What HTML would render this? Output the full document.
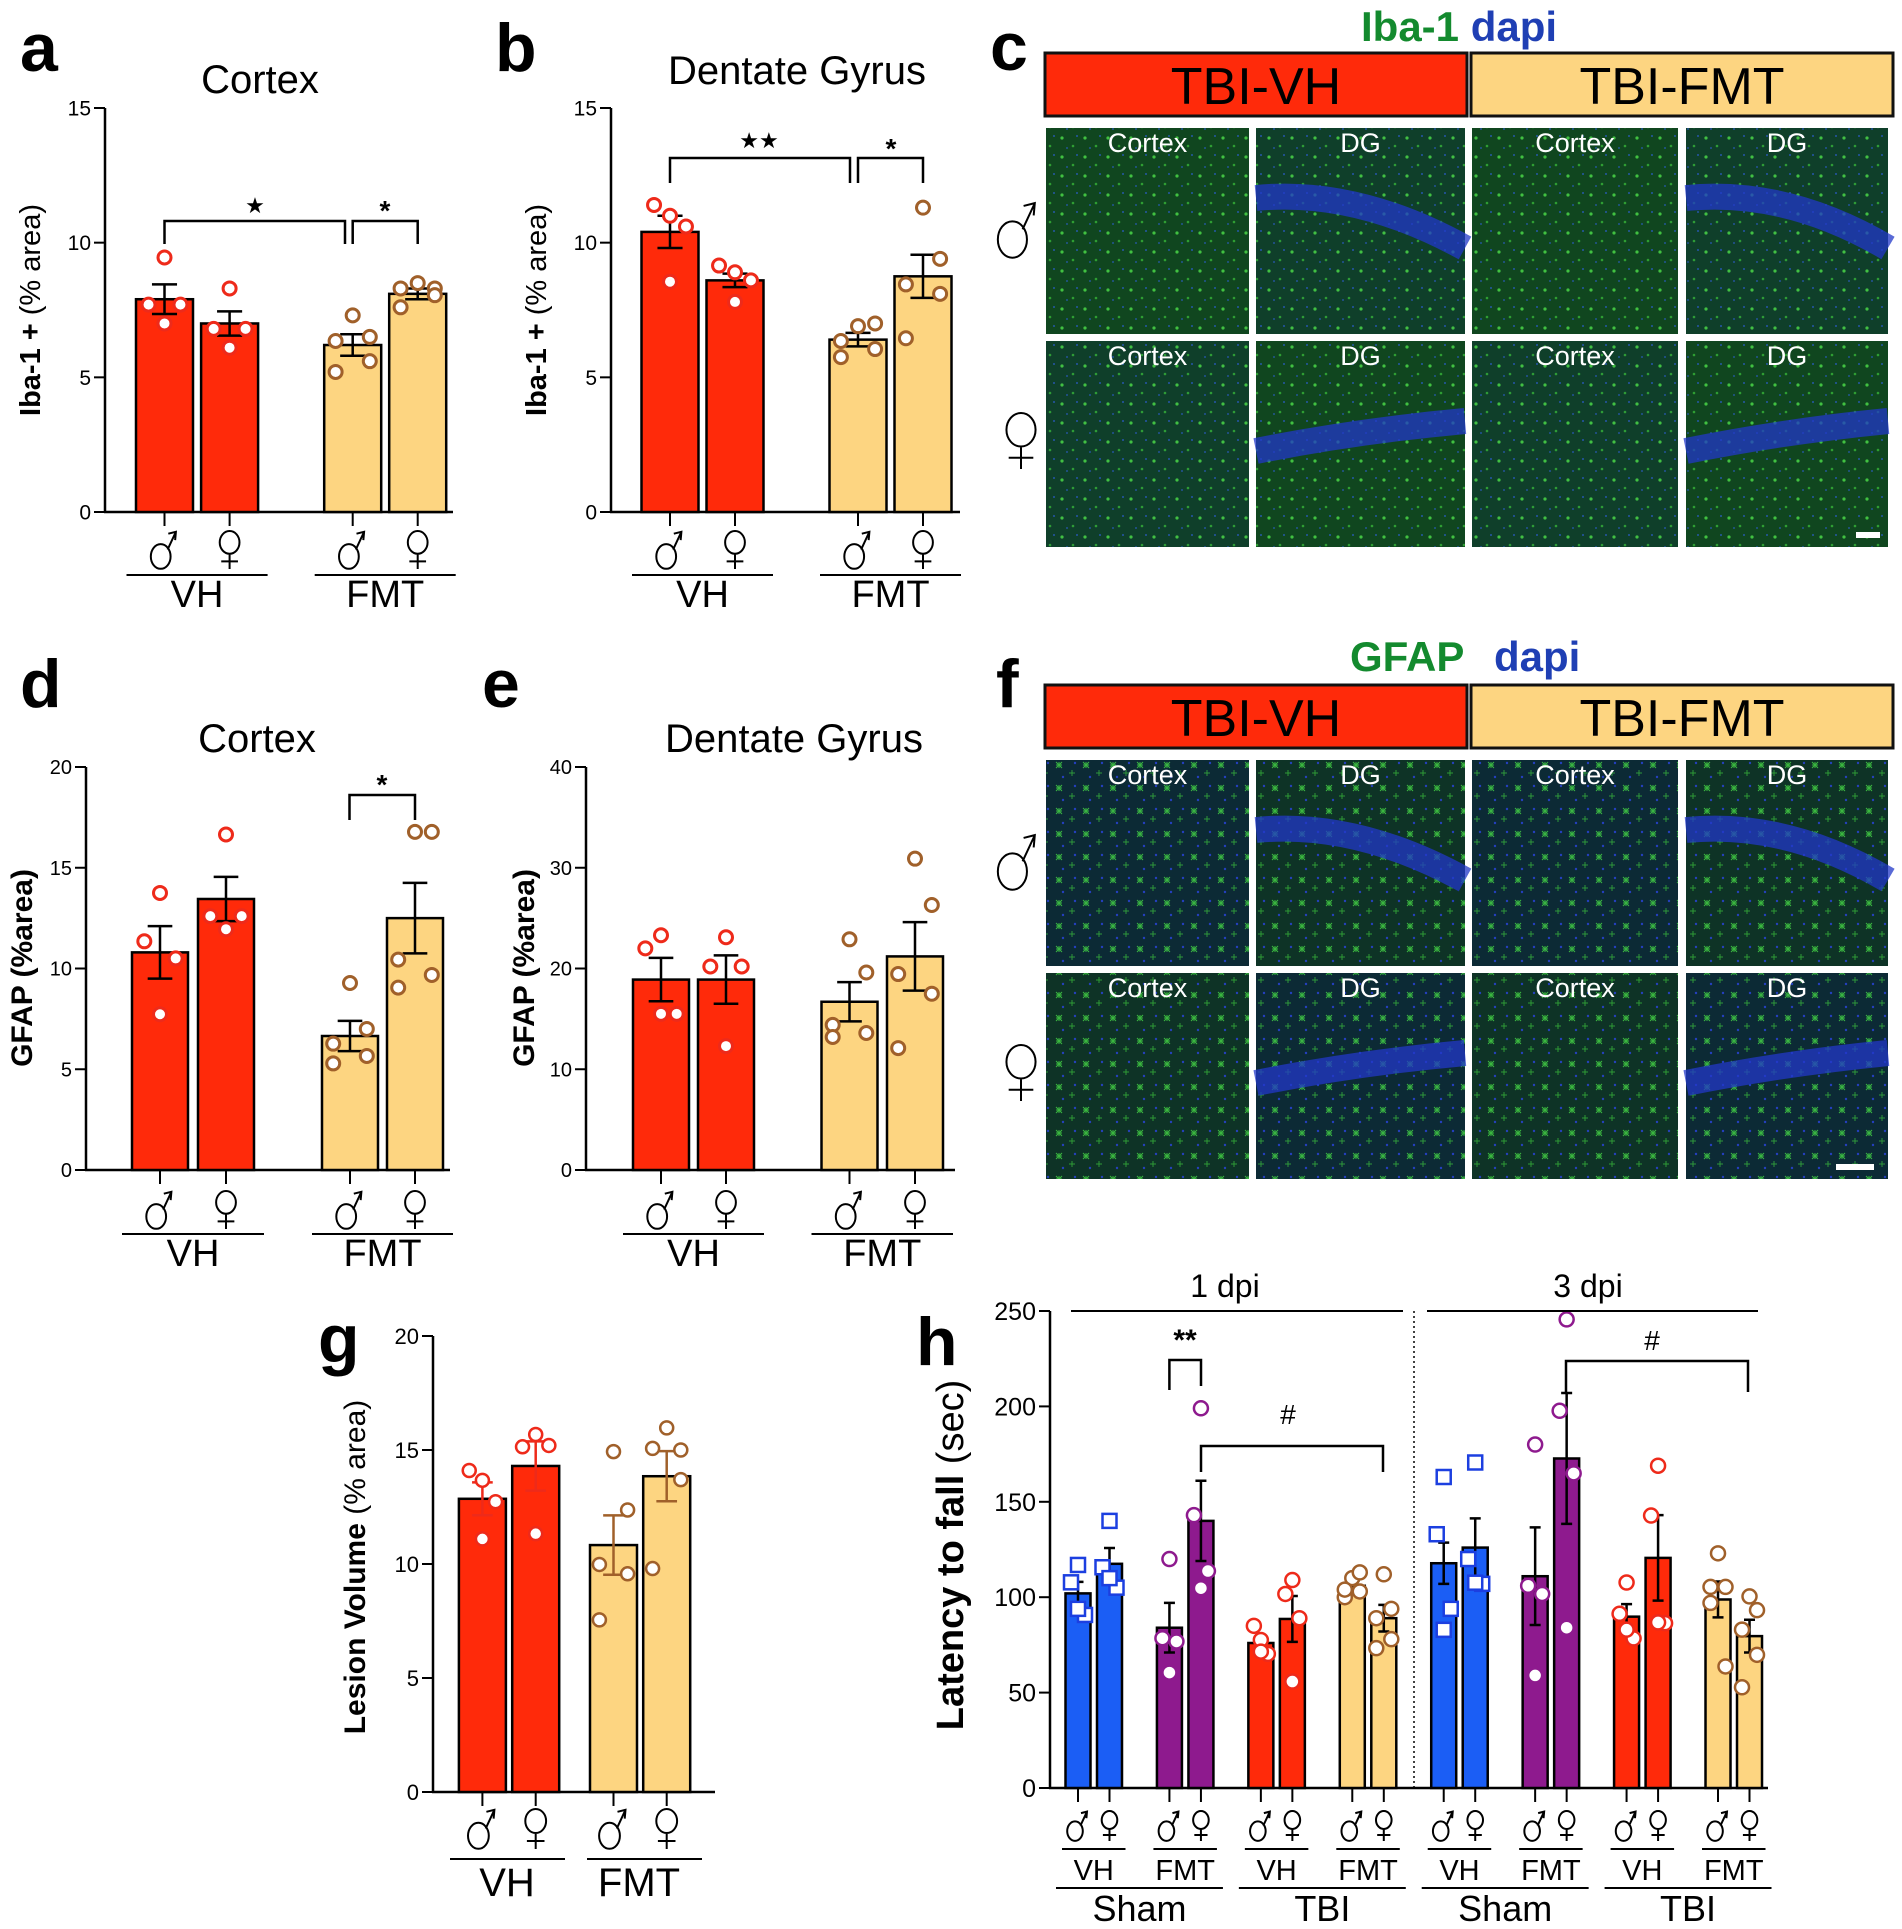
<!DOCTYPE html>
<html><head><meta charset="utf-8"><style>
html,body{margin:0;padding:0;background:#fff;}
svg{display:block;}
text{font-family:"Liberation Sans",sans-serif;}
.n{font-family:"Liberation Sans Narrow","Liberation Sans",sans-serif;}
</style></head><body>
<svg id="fig" xmlns="http://www.w3.org/2000/svg" width="1902" height="1929" viewBox="0 0 1902 1929">
<defs>
<pattern id="ibaDots" width="23" height="19" patternUnits="userSpaceOnUse">
<circle cx="4" cy="5" r="1.6" fill="#4de04a" opacity="0.8"/><circle cx="15" cy="13" r="1.3" fill="#3cc43c" opacity="0.7"/><circle cx="19" cy="3" r="1" fill="#2f5fe0" opacity="0.7"/><circle cx="9" cy="15" r="1" fill="#2f5fe0" opacity="0.6"/>
</pattern>
<pattern id="gfapDots" width="27" height="23" patternUnits="userSpaceOnUse">
<path d="M3 6h6M6 3v6M3 3l6 6M9 3l-6 6" stroke="#45d845" stroke-width="1" opacity="0.8"/><path d="M16 14h6M19 11v6" stroke="#3bc53b" stroke-width="1" opacity="0.7"/><circle cx="22" cy="4" r="1.2" fill="#2a45e0" opacity="0.8"/><circle cx="10" cy="18" r="1.2" fill="#2a45e0" opacity="0.8"/>
</pattern>
</defs>
<text x="20" y="71" font-size="68" font-weight="bold">a</text>
<text x="495" y="71" font-size="68" font-weight="bold">b</text>
<text x="990" y="70" font-size="68" font-weight="bold">c</text>
<text x="20" y="707" font-size="68" font-weight="bold">d</text>
<text x="482" y="707" font-size="68" font-weight="bold">e</text>
<text x="996" y="707" font-size="68" font-weight="bold">f</text>
<text x="318" y="1362" font-size="68" font-weight="bold">g</text>
<text x="916" y="1365" font-size="68" font-weight="bold">h</text>
<text class="n" x="260" y="93" font-size="40" text-anchor="middle">Cortex</text>
<text class="n" x="797" y="84" font-size="40" text-anchor="middle">Dentate Gyrus</text>
<text class="n" x="257" y="752" font-size="40" text-anchor="middle">Cortex</text>
<text class="n" x="794" y="752" font-size="40" text-anchor="middle">Dentate Gyrus</text>
<text x="1361" y="41" font-size="42" font-weight="bold"><tspan fill="#138a2e">Iba-1</tspan> <tspan fill="#1f3fb4">dapi</tspan></text>
<text x="1350" y="671" font-size="42" font-weight="bold"><tspan fill="#138a2e">GFAP</tspan> <tspan fill="#1f3fb4" x="1494">dapi</tspan></text>
<g id="micro"></g>
<g id="charts"></g>
</svg>
<script>
// ---------------- data ----------------
const sexCats = ['male', 'female', 'male', 'female'];
const aMeans = [7.9, 7.0, 6.2, 8.1];
const aSems = [0.55, 0.45, 0.4, 0.2];
const aPoints = [[9.45, 7.7, 7.7, 7.0], [8.3, 6.8, 6.8, 6.1], [7.3, 6.5, 6.35, 5.6, 5.2], [8.5, 8.3, 8.3, 8.05, 7.6]];
const aTicks = [0, 5, 10, 15];

const bMeans = [10.4, 8.6, 6.4, 8.75];
const bSems = [0.6, 0.25, 0.25, 0.8];
const bPoints = [[11.0, 11.4, 10.6, 8.55], [8.9, 9.15, 8.6, 7.8], [6.9, 7.0, 6.35, 6.05, 5.75], [11.3, 9.4, 8.45, 8.1, 6.45]];
const bTicks = [0, 5, 10, 15];

const dMeans = [10.8, 13.45, 6.65, 12.5];
const dSems = [1.3, 1.1, 0.75, 1.75];
const dPoints = [[13.75, 11.35, 10.5, 7.73], [16.65, 12.6, 12.6, 11.95], [9.28, 7.0, 6.27, 5.66, 5.29], [16.78, 16.78, 10.44, 9.68, 9.05]];
const dTicks = [0, 5, 10, 15, 20];

const eMeans = [18.9, 18.9, 16.7, 21.2];
const eSems = [2.15, 2.4, 1.95, 3.4];
const ePoints = [[23.3, 22.0, 15.5, 15.5], [23.1, 20.2, 20.2, 12.3], [22.9, 19.6, 14.4, 13.6, 13.2], [30.9, 26.3, 19.45, 17.5, 12.1]];
const eTicks = [0, 10, 20, 30, 40];

const gMeans = [12.86, 14.3, 10.83, 13.85];
const gSems = [0.72, 1.08, 1.3, 1.1];
const gPoints = [[13.67, 14.1, 12.73, 11.1], [15.68, 15.14, 15.2, 11.33], [14.93, 12.37, 9.98, 9.57, 7.55], [15.97, 15.0, 15.07, 13.7, 9.8]];
const gTicks = [0, 5, 10, 15, 20];

const hGroups = ['Sham-VH', 'Sham-VH', 'Sham-FMT', 'Sham-FMT', 'TBI-VH', 'TBI-VH', 'TBI-FMT', 'TBI-FMT', 'Sham-VH', 'Sham-VH', 'Sham-FMT', 'Sham-FMT', 'TBI-VH', 'TBI-VH', 'TBI-FMT', 'TBI-FMT'];
const hMeans = [102, 117.5, 84, 140, 76, 88.6, 106, 89, 117.8, 126, 111, 172.7, 89.8, 120.6, 98.8, 79.6];
const hSems = [6, 8.3, 13, 21, 3.5, 12, 3, 7, 10.8, 15.3, 25.6, 34.3, 6.6, 22.4, 9.4, 8.6];
const hPoints = [[116.9, 107.8, 90.7, 93.9], [140, 115.7, 105, 110], [120, 78.5, 76.8, 60.5], [199, 143, 113.7, 104.7],
  [77.6, 85, 70.3, 71.5], [109, 101.7, 89, 55.8], [110, 113, 100, 103, 104], [112, 93.9, 89, 78, 73.3],
  [163, 133, 93.9, 82.9], [170.6, 120, 107, 107.6], [180, 106, 101.7, 59], [245.6, 197.7, 164.9, 84],
  [107.7, 91.3, 78.4, 83], [168.9, 142.8, 86.4, 86.8], [123, 105.4, 105.4, 63.7, 97], [100.4, 93.2, 83, 69.8, 52.8]];
const hTicks = [0, 50, 100, 150, 200, 250];

// ---------------- helpers ----------------
const NS = 'http://www.w3.org/2000/svg';
const chartRoot = document.getElementById('charts');
function mk(tag, attrs, parent) {
  const e = document.createElementNS(NS, tag);
  for (const k in attrs) e.setAttribute(k, attrs[k]);
  (parent || chartRoot).appendChild(e);
  return e;
}
function sexSymbol(cx, cy, s, male, parent, sw) {
  let d;
  if (male) {
    const ccx = cx - s * 0.1, ccy = cy + s * 0.17, r = s * 0.26;
    const ex = ccx + r * 0.7, ey = ccy - r * 0.7, tx = cx + s * 0.3, ty = cy - s * 0.48;
    d = `M${ccx - r} ${ccy}a${r} ${r * 1.25} 0 1 0 ${2 * r} 0a${r} ${r * 1.25} 0 1 0 ${-2 * r} 0M${ex} ${ey}L${tx} ${ty}M${tx - s * 0.2} ${ty + s * 0.05}L${tx} ${ty}L${tx - s * 0.02} ${ty + s * 0.22}`;
  } else {
    const ccy = cy - s * 0.2, r = s * 0.26;
    d = `M${cx - r} ${ccy}a${r} ${r * 1.15} 0 1 0 ${2 * r} 0a${r} ${r * 1.15} 0 1 0 ${-2 * r} 0M${cx} ${ccy + r * 1.15}V${cy + s * 0.5}M${cx - s * 0.22} ${cy + s * 0.3}H${cx + s * 0.22}`;
  }
  const p = mk('path', {d, fill: 'none', stroke: '#000', 'stroke-width': sw || 2}, parent);
  
  
  return p;
}
const COL = {
  'VH': ['#ff2a0a', '#ee2a1a'], 'FMT': ['#fdd581', '#a0602a'],
  'Sham-VH': ['#1b5ef5', '#1c3fe0'], 'Sham-FMT': ['#8e1a8e', '#8e1a8e'],
  'TBI-VH': ['#ff2a0a', '#ee2a1a'], 'TBI-FMT': ['#fdd581', '#a0602a']
};
const JIT = [[0], [-0.25, 0.25], [0, -0.28, 0.28], [0, -0.28, 0.28, 0], [0, 0.3, -0.3, 0.3, -0.3]];

function drawChart(cfg, groups, means, sems, points, ticks) {
  const g = mk('g', {});
  
  
  const yS = v => cfg.y0 - (v / cfg.max) * (cfg.y0 - cfg.yTop);
  const ya = mk('line', {x1: cfg.ax, y1: yS(cfg.max), x2: cfg.ax, y2: cfg.y0, stroke: '#000', 'stroke-width': 2.5}, g);
  
  
  const xa = mk('line', {x1: cfg.ax - 1, y1: cfg.y0, x2: cfg.xEnd, y2: cfg.y0, stroke: '#000', 'stroke-width': 2.5}, g);
  
  
  ticks.forEach(t => {
    const tl = mk('line', {x1: cfg.ax - 11, y1: yS(t), x2: cfg.ax, y2: yS(t), stroke: '#000', 'stroke-width': 2}, g);
    
    
    const tx = mk('text', {x: cfg.ax - 14, y: yS(t) + cfg.tickFs * 0.36, 'font-size': cfg.tickFs, 'text-anchor': 'end', class: cfg.tickClass || 'n'}, g);
    
    
    tx.textContent = String(t);
  });
  means.forEach((m, i) => {
    const c = cfg.centers[i], w = cfg.barW, col = COL[groups[i]];
    const r = mk('rect', {x: c - w / 2, y: yS(m), width: w, height: cfg.y0 - yS(m), fill: col[0], stroke: '#000', 'stroke-width': 2.5}, g);
    
    
    const tk = mk('line', {x1: c, y1: cfg.y0, x2: c, y2: cfg.y0 + 14, stroke: '#000', 'stroke-width': 2}, g);
    
    
    const s = sems[i], cw = w * 0.22;
    const eb = mk('path', {d: `M${c} ${yS(m + s)}V${yS(m - s)}M${c - cw} ${yS(m + s)}H${c + cw}M${c - cw} ${yS(m - s)}H${c + cw}`, stroke: cfg.errCol ? cfg.errCol(i) : '#000', 'stroke-width': 2.5, fill: 'none'}, g);
    
    
    const pts = points[i], jit = JIT[Math.min(pts.length, 5) - 1];
    pts.forEach((v, j) => {
      const px = c + jit[j % jit.length] * w;
      let p;
      if (groups[i] === 'Sham-VH') {
        p = mk('rect', {x: px - cfg.r, y: yS(v) - cfg.r, width: cfg.r * 2, height: cfg.r * 2, fill: '#fff', stroke: col[1], 'stroke-width': 2.5}, g);
      } else {
        p = mk('circle', {cx: px, cy: yS(v), r: cfg.r, fill: '#fff', stroke: col[1], 'stroke-width': cfg.pw || 3}, g);
      }
      
      
    });
    sexSymbol(c, cfg.sexY, cfg.sexS, i % 2 === 0, g, 2);
  });
  const yt = mk('text', {transform: `translate(${cfg.ytX},${cfg.ytY}) rotate(-90)`, 'text-anchor': 'middle', 'font-size': cfg.ytFs}, g);
  
  
  const ta = mk('tspan', {'font-weight': 'bold'}, yt);
  ta.textContent = cfg.ytBold;
  if (cfg.ytNorm) {
    const tb = mk('tspan', {}, yt);
    tb.textContent = ' ' + cfg.ytNorm;
  }
  return yS;
}
function hline(x1, x2, y, name, w) {
  const l = mk('line', {x1, y1: y, x2, y2: y, stroke: '#000', 'stroke-width': w || 2});
  
  
}
function addLabel(x, y, txt, fs, name, cls, extra) {
  const t = mk('text', Object.assign({x, y, 'font-size': fs, 'text-anchor': 'middle'}, cls ? {class: cls} : {}, extra || {}));
  
  
  t.textContent = txt;
}
function bracket(x1, x2, yTop, yL, yR, name) {
  const p = mk('path', {d: `M${x1} ${yL}V${yTop}H${x2}V${yR}`, stroke: '#000', 'stroke-width': 2.5, fill: 'none'});
  
  
}
function groupLabels(c, lineY, textY, fs, cls) {
  hline(c[0] - 38, c[1] + 38, lineY, 'group-line-vh');
  hline(c[2] - 38, c[3] + 38, lineY, 'group-line-fmt');
  addLabel((c[0] + c[1]) / 2, textY, 'VH', fs, 'group-label-vh', cls);
  addLabel((c[2] + c[3]) / 2, textY, 'FMT', fs, 'group-label-fmt', cls);
}
const grp4 = ['VH', 'VH', 'FMT', 'FMT'];

// ---- panel a ----
const aC = [164.5, 229.6, 352.7, 417.7];
drawChart({name: 'a', ax: 105, y0: 512, yTop: 108, max: 15, xEnd: 453, centers: aC, barW: 57, r: 6.5, tickFs: 21,
  sexY: 550, sexS: 38, ytX: 40, ytY: 310, ytFs: 29, ytBold: 'Iba-1 +', ytNorm: '(% area)'},
  grp4, aMeans, aSems, aPoints, aTicks);
groupLabels(aC, 575, 607, 38, 'n');
bracket(aC[0], 345, 221, 244, 244, 'sig-bracket-a1');
bracket(352.7, aC[3], 221, 244, 244, 'sig-bracket-a2');
addLabel(255, 213, '\u2605', 22, 'sig-star-a1', null, {'font-family': 'DejaVu Sans, sans-serif'});
addLabel(385, 220, '*', 28, 'sig-star-a2', null, {'font-weight': 'bold'});

// ---- panel b ----
const bC = [670, 735, 858, 923];
drawChart({name: 'b', ax: 611, y0: 512, yTop: 108, max: 15, xEnd: 960, centers: bC, barW: 57, r: 6.5, tickFs: 21,
  sexY: 550, sexS: 38, ytX: 546, ytY: 310, ytFs: 29, ytBold: 'Iba-1 +', ytNorm: '(% area)'},
  grp4, bMeans, bSems, bPoints, bTicks);
groupLabels(bC, 575, 607, 38, 'n');
bracket(bC[0], 850, 158, 183, 183, 'sig-bracket-b1');
bracket(858, bC[3], 158, 183, 183, 'sig-bracket-b2');
addLabel(759, 148, '\u2605\u2605', 22, 'sig-star-b1', null, {'font-family': 'DejaVu Sans, sans-serif'});
addLabel(891, 158, '*', 28, 'sig-star-b2', null, {'font-weight': 'bold'});

// ---- panel d ----
const dC = [160, 226, 350, 415];
drawChart({name: 'd', ax: 86, y0: 1170, yTop: 767, max: 20, xEnd: 450, centers: dC, barW: 56, r: 6.5, tickFs: 20,
  sexY: 1210, sexS: 38, ytX: 32, ytY: 968, ytFs: 30, ytBold: 'GFAP (%area)', ytNorm: ''},
  grp4, dMeans, dSems, dPoints, dTicks);
groupLabels(dC, 1234, 1266, 38, 'n');
bracket(349.5, 415, 795, 820, 820, 'sig-bracket-d');
addLabel(382, 794, '*', 28, 'sig-star-d', null, {'font-weight': 'bold'});

// ---- panel e ----
const eC = [661, 726, 849.5, 915];
drawChart({name: 'e', ax: 586, y0: 1170, yTop: 767, max: 40, xEnd: 955, centers: eC, barW: 56, r: 6.5, tickFs: 20,
  sexY: 1210, sexS: 38, ytX: 534, ytY: 968, ytFs: 30, ytBold: 'GFAP (%area)', ytNorm: ''},
  grp4, eMeans, eSems, ePoints, eTicks);
groupLabels(eC, 1234, 1266, 38, 'n');

// ---- panel g ----
const gC = [482.4, 535.7, 613.5, 666.7];
drawChart({name: 'g', ax: 433, y0: 1792, yTop: 1336, max: 20, xEnd: 715, centers: gC, barW: 47, r: 6.5, pw: 2.5, tickFs: 22, tickClass: 'x',
  sexY: 1829, sexS: 40, ytX: 365, ytY: 1567, ytFs: 30, ytBold: 'Lesion Volume', ytNorm: '(% area)',
  errCol: i => i < 2 ? '#ee2a1a' : '#a0602a'},
  grp4, gMeans, gSems, gPoints, gTicks);
hline(450, 565, 1859, 'group-line-vh');
hline(587, 702, 1859, 'group-line-fmt');
addLabel(507, 1896, 'VH', 40, 'group-label-vh');
addLabel(639, 1896, 'FMT', 40, 'group-label-fmt');

// ---- panel h ----
const hC = [];
for (let k = 0; k < 8; k++) { hC.push(1078 + k * 91.43); hC.push(1078 + k * 91.43 + 31.5); }
drawChart({name: 'h', ax: 1050, y0: 1788, yTop: 1311, max: 250, xEnd: 1768, centers: hC, barW: 25, r: 7, pw: 2.5, tickFs: 25,
  sexY: 1826, sexS: 30, ytX: 963, ytY: 1555, ytFs: 38, ytBold: 'Latency to fall', ytNorm: '(sec)'},
  hGroups, hMeans, hSems, hPoints, hTicks);
const dl = mk('line', {x1: 1414, y1: 1311, x2: 1414, y2: 1788, stroke: '#000', 'stroke-width': 1.5, 'stroke-dasharray': '2,3'});


hline(1071, 1403, 1311, 'dpi-line-1');
hline(1427, 1758, 1311, 'dpi-line-3');
addLabel(1225, 1297, '1 dpi', 32, 'dpi-label-1', 'n');
addLabel(1588, 1297, '3 dpi', 32, 'dpi-label-3', 'n');
const subLbl = ['VH', 'FMT', 'VH', 'FMT', 'VH', 'FMT', 'VH', 'FMT'];
for (let k = 0; k < 8; k++) {
  const x1 = hC[2 * k] - 16, x2 = hC[2 * k + 1] + 16;
  hline(x1, x2, 1849, 'group-line-' + subLbl[k].toLowerCase());
  addLabel((hC[2 * k] + hC[2 * k + 1]) / 2, 1880, subLbl[k], 29, 'group-label-' + subLbl[k].toLowerCase(), 'n');
}
const topLbl = ['Sham', 'TBI', 'Sham', 'TBI'];
for (let k = 0; k < 4; k++) {
  const x1 = hC[4 * k] - 22, x2 = hC[4 * k + 3] + 22;
  hline(x1, x2, 1888, 'group-line-' + topLbl[k].toLowerCase());
  addLabel((x1 + x2) / 2, 1921, topLbl[k], 36, 'group-label-' + topLbl[k].toLowerCase(), 'n');
}
bracket(1169.4, 1201, 1360, 1390, 1386, 'sig-bracket-h1');
addLabel(1185, 1350, '**', 30, 'sig-star-h1', null, {'font-weight': 'bold'});
bracket(1201, 1383, 1446, 1472, 1472, 'sig-bracket-h2');
addLabel(1288, 1424, '#', 28, 'sig-hash-h2');
bracket(1566, 1748, 1361, 1392, 1392, 'sig-bracket-h3');
addLabel(1652, 1350, '#', 28, 'sig-hash-h3');

// ---- micrograph panels c, f ----
const mroot = document.getElementById('micro');
const colX = [1046, 1256, 1472, 1686];
const colW = [203, 209, 206, 202];
const microPanels = [{name: 'c', off: 0, pat: 'ibaDots', base: ['#10461f', '#0f3f2a']}, {name: 'f', off: 632, pat: 'gfapDots', base: ['#0c2a35', '#0e3326']}];
microPanels.forEach(P => {
  const hb1 = mk('rect', {x: 1045, y: 53 + P.off, width: 422, height: 63, fill: '#ff2a0a', stroke: '#111', 'stroke-width': 3}, mroot);
  
  
  const hb2 = mk('rect', {x: 1471, y: 53 + P.off, width: 422, height: 63, fill: '#fdd581', stroke: '#111', 'stroke-width': 3}, mroot);
  
  
  const t1 = mk('text', {x: 1256, y: 104 + P.off, 'font-size': 52, 'text-anchor': 'middle'}, mroot);
  
  
  t1.textContent = 'TBI-VH';
  const t2 = mk('text', {x: 1682, y: 104 + P.off, 'font-size': 52, 'text-anchor': 'middle'}, mroot);
  
  
  t2.textContent = 'TBI-FMT';
  [0, 1].forEach(row => {
    const y = 128 + P.off + row * 213;
    for (let c = 0; c < 4; c++) {
      const im = mk('rect', {x: colX[c], y, width: colW[c], height: 206, fill: P.base[(c + row) % 2]}, mroot);
      
      
      const tex = mk('rect', {x: colX[c], y, width: colW[c], height: 206, fill: 'url(#' + P.pat + ')'}, mroot);
      
      
      if (c % 2 === 1) {
        const band = mk('path', {d: `M${colX[c]} ${y + 70 + row * 40} Q${colX[c] + 100} ${y + 60 + row * 30} ${colX[c] + colW[c]} ${y + 120 - row * 40}`, stroke: '#2238c8', 'stroke-width': 26, fill: 'none', opacity: 0.75}, mroot);
        
        
      }
      const lt = mk('text', {x: colX[c] + colW[c] / 2, y: y + 24, 'font-size': 27, fill: '#fff', 'text-anchor': 'middle', class: 'n'}, mroot);
      
      
      lt.textContent = c % 2 ? 'DG' : 'Cortex';
    }
  });
  sexSymbol(1018, 230 + P.off, 56, true, mroot, 2);
  sexSymbol(1021, 441 + P.off, 56, false, mroot, 2);
});
const sb1 = mk('rect', {x: 1856, y: 532, width: 24, height: 6, fill: '#fff'}, mroot);


const sb2 = mk('rect', {x: 1836, y: 1164, width: 38, height: 6, fill: '#fff'}, mroot);


</script>
</body></html>
